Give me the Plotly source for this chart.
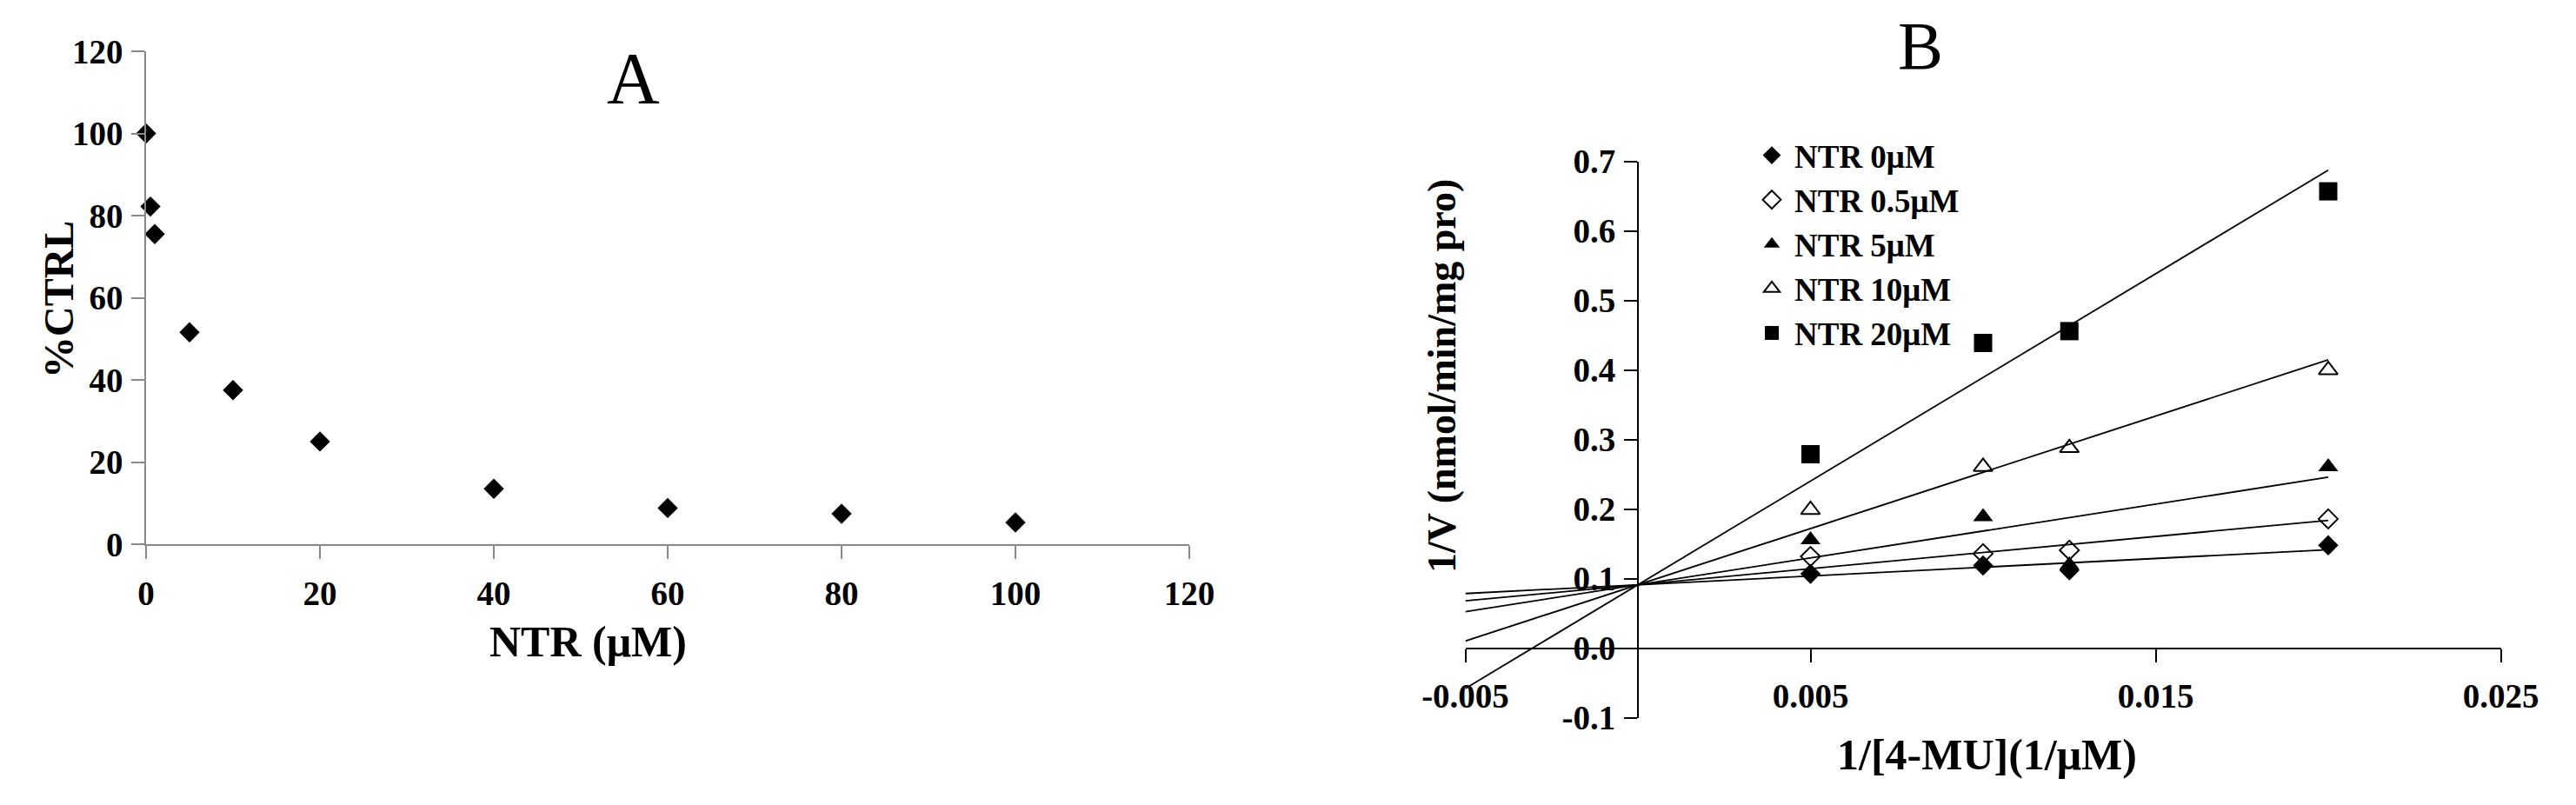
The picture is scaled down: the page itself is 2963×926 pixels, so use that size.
import plotly.graph_objects as go

# ---------------- Panel A data ----------------
ntr_conc = [0, 0.5, 1, 5, 10, 20, 40, 60, 80, 100]
pct_ctrl = [100, 82.2, 75.5, 51.6, 37.5, 25.0, 13.5, 8.8, 7.4, 5.3]
a_ticks = [0, 20, 40, 60, 80, 100, 120]

# ---------------- Panel B data ----------------
inv_s = [0.005, 0.01, 0.0125, 0.02]
series_names = ["NTR 0μM", "NTR 0.5μM", "NTR 5μM", "NTR 10μM", "NTR 20μM"]
inv_v_0 = [0.107, 0.119, 0.112, 0.148]
inv_v_05 = [0.132, 0.136, 0.141, 0.186]
inv_v_5 = [0.156, 0.189, 0.120, 0.261]
inv_v_10 = [0.199, 0.261, 0.288, 0.400]
inv_v_20 = [0.279, 0.439, 0.456, 0.657]
# fitted lines: common intercept, per-series slope
fit_intercept = 0.0913
fit_slopes = [2.52, 4.63, 7.73, 16.17, 29.81]
fit_x = [-0.005, 0.02]
b_xticks = [-0.005, 0.005, 0.015, 0.025]
b_xticktext = ["-0.005", "0.005", "0.015", "0.025"]
b_yticks = [-0.1, 0.0, 0.1, 0.2, 0.3, 0.4, 0.5, 0.6, 0.7]
b_yticktext = ["-0.1", "0.0", "0.1", "0.2", "0.3", "0.4", "0.5", "0.6", "0.7"]

W, H = 2963, 926
FONT = "Liberation Serif"

def px_x(p):
    return p / W

def px_y(p):
    return 1 - p / H

fig = go.Figure()

# Panel A
fig.add_trace(go.Scatter(
    x=ntr_conc, y=pct_ctrl, mode="markers", xaxis="x", yaxis="y",
    marker=dict(symbol="diamond", size=18, color="black"),
    cliponaxis=False, showlegend=False))

# Panel B lines
for s in fit_slopes:
    fig.add_trace(go.Scatter(
        x=fit_x, y=[fit_intercept + s * xv for xv in fit_x],
        mode="lines", xaxis="x2", yaxis="y2",
        line=dict(color="black", width=1.8), showlegend=False, hoverinfo="skip"))

b_series = [inv_v_0, inv_v_05, inv_v_5, inv_v_10, inv_v_20]
b_symbols = ["diamond", "diamond-open", "triangle-up", "triangle-up-open", "square"]
b_sizes = [18, 17, 20, 19, 21]
for name, ys, sym, sz in zip(series_names, b_series, b_symbols, b_sizes):
    fig.add_trace(go.Scatter(
        x=inv_s, y=ys, mode="markers", name=name, xaxis="x2", yaxis="y2",
        marker=dict(symbol=sym, size=sz, color="black",
                    line=dict(color="black", width=2 if "open" in sym else 0)),
        cliponaxis=False))

tickfont = dict(family=FONT, size=39, color="black", weight="bold")
grey = "#898989"

xa_dom = [px_x(168), px_x(1368)]
ya_dom = [px_y(626), px_y(59)]
xb_dom = [px_x(1685.5), px_x(2876.5)]
yb_dom = [px_y(825.7), px_y(185.7)]

common = dict(showgrid=False, zeroline=False, automargin=False, ticks="outside",
              ticklen=15, tickfont=tickfont)

fig.update_layout(
    width=W, height=H, margin=dict(l=0, r=0, t=0, b=0, autoexpand=False),
    paper_bgcolor="white", plot_bgcolor="rgba(0,0,0,0)",
    xaxis=dict(domain=xa_dom, range=[0, 120], tickvals=a_ticks, anchor="y",
               showline=True, linecolor=grey, linewidth=1.5,
               tickcolor=grey, tickwidth=1.5, ticklabelstandoff=6, **common),
    yaxis=dict(domain=ya_dom, range=[0, 120], tickvals=a_ticks, anchor="x",
               showline=True, linecolor=grey, linewidth=1.5,
               tickcolor=grey, tickwidth=1.5, ticklabelstandoff=2, **common),
    xaxis2=dict(domain=xb_dom, range=[-0.005, 0.025], tickvals=b_xticks,
                ticktext=b_xticktext, anchor="free", position=px_y(745.7),
                showline=True, linecolor="black", linewidth=1.8,
                tickcolor="black", tickwidth=1.8, ticklabelstandoff=6, **common),
    yaxis2=dict(domain=yb_dom, range=[-0.1, 0.7], tickvals=b_yticks,
                ticktext=b_yticktext, anchor="free", position=px_x(1884),
                showline=True, linecolor="black", linewidth=1.8,
                tickcolor="black", tickwidth=1.8, ticklabelstandoff=2, **common),
    legend=dict(x=px_x(2012), y=px_y(148), xanchor="left", yanchor="top",
                bgcolor="rgba(0,0,0,0)", itemwidth=42,
                font=dict(family=FONT, size=37, color="black", weight="bold")),
)

def ann(text, x, y, size, bold=True, angle=0):
    fig.add_annotation(
        text=text, x=px_x(x), y=px_y(y), xref="paper", yref="paper",
        xanchor="center", yanchor="middle", showarrow=False, textangle=angle,
        font=dict(family=FONT, size=size, color="black",
                  weight="bold" if bold else "normal"))

ann("A", 728, 90, 84, bold=False)
ann("B", 2209, 52, 78, bold=False)
ann("%CTRL", 67, 345, 48, angle=-90)
ann("NTR (μM)", 676, 738, 50)
ann("1/V (nmol/min/mg pro)", 1658, 432, 46, angle=-90)
ann("1/[4-MU](1/μM)", 2285, 868, 50)

fig.write_html("out.html", config={"displayModeBar": False},
               post_script="document.body.style.margin='0';")
